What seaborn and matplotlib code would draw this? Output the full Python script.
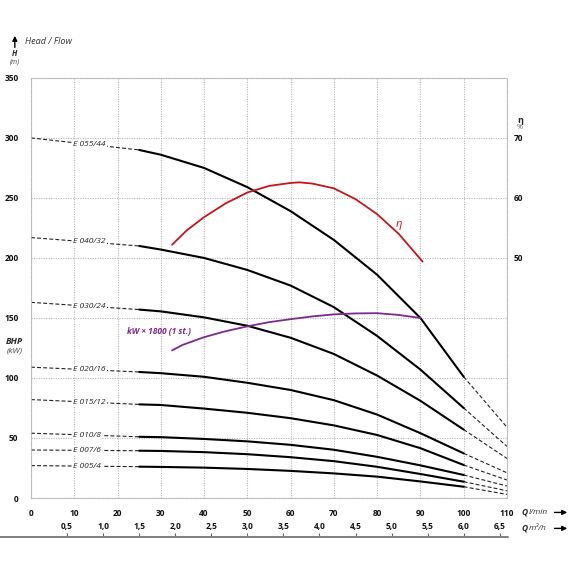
import numpy as np
import pandas as pd
import seaborn as sns
import matplotlib.pyplot as plt

# flow Q in l/min, head H in m
pumps = ['E 055/44', 'E 040/32', 'E 030/24', 'E 020/16',
         'E 015/12', 'E 010/8', 'E 007/6', 'E 005/4']
q_solid = [25, 30, 40, 50, 60, 70, 80, 90, 100]
h_055 = [290, 286, 275, 259, 239, 215, 186, 150, 101]
h_040 = [210, 207, 200, 190, 177, 159, 135, 107, 75]
h_030 = [157, 155.5, 150.5, 143.5, 133.5, 120, 102, 81, 57]
h_020 = [105, 104, 101, 96, 90, 81.5, 69.5, 54, 37.2]
h_015 = [78, 77.5, 74.5, 71, 66.5, 60.5, 52.5, 41.5, 27.5]
h_010 = [51, 50.7, 49.2, 47.2, 44.3, 40.2, 34.3, 27.2, 19.2]
h_007 = [39.4, 39.2, 38.2, 36.5, 34, 30.7, 26, 20, 13.6]
h_005 = [26.1, 25.9, 25.3, 24.2, 22.6, 20.5, 17.8, 13.8, 9.4]
heads = [h_055, h_040, h_030, h_020, h_015, h_010, h_007, h_005]
h_at_0 = [300, 217, 163, 109, 82, 54, 40, 27]
h_at_110 = [59, 43, 33, 21, 15, 10, 6, 3]

# efficiency (right axis, %)
q_eta = [32.6, 36, 40, 45, 50, 55, 60, 62, 65, 70, 75, 80, 85, 90.5]
eta = [52.2, 54.6, 56.8, 59.1, 60.9, 62.0, 62.5, 62.6, 62.4, 61.6, 59.8, 57.3, 54.0, 49.4]

# power curve kW x 1800 (left axis units)
q_kw = [32.6, 35, 40, 45, 50, 55, 60, 65, 70, 75, 80, 85, 90]
kw = [123, 127.5, 134, 139, 143, 146.5, 149, 151.3, 153, 153.8, 154, 152.5, 150]

x_ticks = list(range(0, 111, 10))
y_ticks = list(range(0, 351, 50))
eta_ticks = [50, 60, 70]
m3h_ticks = [0.5, 1.0, 1.5, 2.0, 2.5, 3.0, 3.5, 4.0, 4.5, 5.0, 5.5, 6.0, 6.5]

sns.set_theme(style='white')
plt.rcParams['font.family'] = ['Open Sans', 'DejaVu Sans']

fig = plt.figure(figsize=(5.7, 5.7), dpi=100)
ax = fig.add_axes([0.0544, 0.1263, 0.835, 0.737])

solid_rows = []
dash_rows = []
for name, hs, h0, h1 in zip(pumps, heads, h_at_0, h_at_110):
    for q, h in zip(q_solid, hs):
        solid_rows.append({'pump': name, 'Q': q, 'H': h})
    dash_rows += [{'seg': name + 'a', 'Q': 0, 'H': h0},
                  {'seg': name + 'a', 'Q': q_solid[0], 'H': hs[0]},
                  {'seg': name + 'b', 'Q': q_solid[-1], 'H': hs[-1]},
                  {'seg': name + 'b', 'Q': 110, 'H': h1}]
df_solid = pd.DataFrame(solid_rows)
df_dash = pd.DataFrame(dash_rows)

sns.lineplot(data=df_dash, x='Q', y='H', units='seg', estimator=None, sort=False,
             color='#222222', lw=0.8, linestyle=(0, (3.5, 2)), legend=False, ax=ax)
sns.lineplot(data=df_solid, x='Q', y='H', units='pump', estimator=None, sort=False,
             color='black', lw=1.5, legend=False, ax=ax)
sns.lineplot(x=q_kw, y=kw, color='#7d2a8c', lw=1.3, sort=False, ax=ax)

# curve labels sitting on the dashed part
for name, hs, h0 in zip(pumps, heads, h_at_0):
    y_lab = h0 + (hs[0] - h0) * 13 / q_solid[0]
    ax.text(9.8, y_lab, name, ha='left', va='center', fontsize=6, style='italic',
            color='#222222', bbox=dict(facecolor='white', edgecolor='none', pad=0.6))

ax.text(22.3, 139, 'kW × 1800 (1 st.)', fontsize=6, fontweight='bold', style='italic',
        color='#7d2a8c', va='center')

ax.set_xlim(0, 110)
ax.set_ylim(0, 350)
ax.set_xticks(x_ticks, [str(v) for v in x_ticks], fontweight='bold', fontsize=6)
ax.set_yticks(y_ticks, [str(v) for v in y_ticks], fontweight='bold', fontsize=6)
ax.tick_params(axis='both', length=0, colors='#111111')
ax.tick_params(axis='x', pad=8)
ax.tick_params(axis='y', pad=9)
ax.set_xlabel('')
ax.set_ylabel('')
ax.grid(True, color='#b8b8b8', linestyle=(0, (1, 1.2)), lw=0.8)
for sp in ax.spines.values():
    sp.set_linestyle((0, (1, 1.2)))
    sp.set_color('#b8b8b8')
    sp.set_linewidth(0.8)

# efficiency on twin axis
ax2 = ax.twinx()
sns.lineplot(x=q_eta, y=eta, color='#c4161c', lw=1.3, sort=False, ax=ax2)
ax2.set_ylim(10, 80)
ax2.set_yticks(eta_ticks, [str(v) for v in eta_ticks], fontweight='bold', fontsize=6)
ax2.tick_params(axis='y', length=0, pad=5, colors='#111111')
ax2.grid(False)
for sp in ax2.spines.values():
    sp.set_visible(False)
ax2.text(85, 55.5, 'η', color='#c4161c', fontsize=8, style='italic', ha='center', va='center')

# m3/h scale below
sec = ax.secondary_xaxis(-0.093, functions=(lambda q: q * 0.06, lambda m: m / 0.06))
sec.set_alignment('top')
sec.set_xticks(m3h_ticks, [f'{v:.1f}'.replace('.', ',') for v in m3h_ticks],
               fontweight='bold', fontsize=6)
sec.tick_params(length=3, width=0.8, pad=1.5, colors='#111111')
sec.tick_params(color='#666666')
for sp in sec.spines.values():
    sp.set_visible(False)
ax.plot([-0.066, 1.003], [-0.093, -0.093], transform=ax.transAxes, clip_on=False,
        color='#808080', lw=1.4)

# axis titles
fig.text(0.044, 0.928, 'Head / Flow', fontsize=6.5, style='italic', color='#333333', va='center')
ax.annotate('', xy=(0.026, 0.942), xytext=(0.026, 0.912), xycoords='figure fraction',
            textcoords='figure fraction',
            arrowprops=dict(arrowstyle='-|>', color='black', lw=1, mutation_scale=7))
fig.text(0.026, 0.907, 'H', fontsize=5.5, fontweight='bold', style='italic', ha='center', va='center')
fig.text(0.026, 0.891, '(m)', fontsize=5, style='italic', color='#444444', ha='center', va='center')
fig.text(0.026, 0.400, 'BHP', fontsize=6.5, fontweight='bold', style='italic', ha='center', va='center')
fig.text(0.026, 0.384, '(kW)', fontsize=6, style='italic', color='#444444', ha='center', va='center')
fig.text(0.912, 0.789, 'η', fontsize=6.5, fontweight='bold', ha='center', va='center')
fig.text(0.912, 0.776, '%', fontsize=5, color='#666666', ha='center', va='center')

fig.text(0.915, 0.101, 'Q', fontsize=6, fontweight='bold', style='italic', va='center')
fig.text(0.928, 0.101, 'l/min', fontsize=6, style='italic', color='#333333', va='center')
fig.text(0.915, 0.073, 'Q', fontsize=6, fontweight='bold', style='italic', va='center')
fig.text(0.928, 0.073, 'm³/h', fontsize=6, style='italic', color='#333333', va='center')
for yy in (0.101, 0.073):
    ax.annotate('', xy=(1.0, yy), xytext=(0.968, yy), xycoords='figure fraction',
                textcoords='figure fraction',
                arrowprops=dict(arrowstyle='-|>', color='black', lw=1, mutation_scale=7))

fig.savefig('out.png', dpi=100)
